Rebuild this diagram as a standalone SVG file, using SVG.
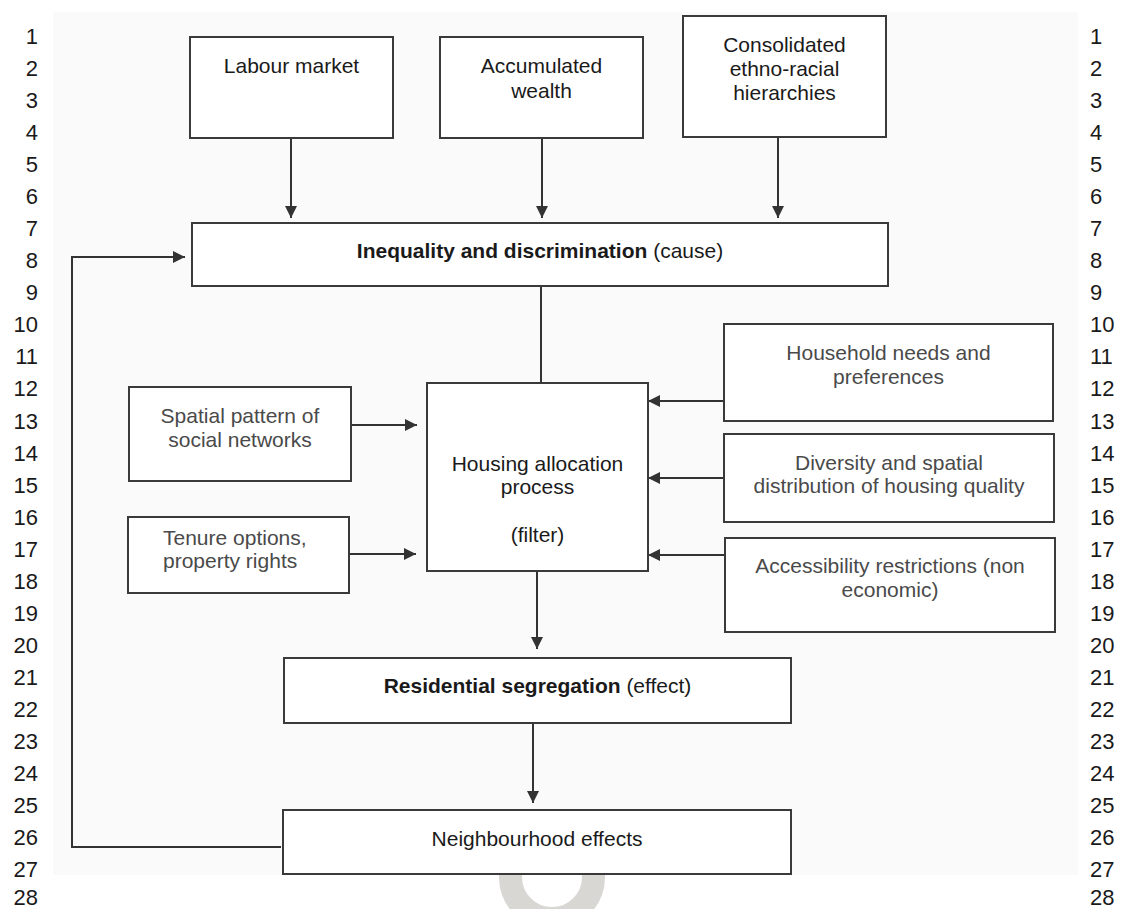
<svg xmlns="http://www.w3.org/2000/svg" width="1121" height="909" viewBox="0 0 1121 909">
<defs>
<style>
.num{font-family:"Liberation Sans",Arial,sans-serif;font-size:22px;fill:#1a1a1a}
.box{fill:#ffffff;stroke:#3a3a3a;stroke-width:2}
.t{font-family:"Liberation Sans",Arial,sans-serif;font-size:21px;fill:#1a1a1a;text-anchor:middle}
.g{font-family:"Liberation Sans",Arial,sans-serif;font-size:21px;fill:#4a4a4a;text-anchor:middle}
.b{font-weight:bold}
.c{fill:none;stroke:#333333;stroke-width:2}
</style>
<marker id="ah" markerUnits="userSpaceOnUse" markerWidth="13" markerHeight="13" refX="12" refY="6.5" orient="auto">
<path d="M0,0.5 L12,6.5 L0,12.5 z" fill="#333333"/>
</marker>
</defs>
<rect x="0" y="0" width="1121" height="909" fill="#ffffff"/>
<rect x="53" y="12" width="1025" height="863" fill="#fafafa"/>
<circle cx="552" cy="877" r="41.5" fill="none" stroke="#d9d7d4" stroke-width="23"/>

<g id="line-numbers-left" class="num" text-anchor="end">
<text x="38" y="44">1</text><text x="38" y="76">2</text><text x="38" y="108">3</text><text x="38" y="140">4</text>
<text x="38" y="172">5</text><text x="38" y="204">6</text><text x="38" y="236">7</text><text x="38" y="268">8</text>
<text x="38" y="300">9</text><text x="38" y="332">10</text><text x="38" y="364">11</text><text x="38" y="396">12</text>
<text x="38" y="429">13</text><text x="38" y="461">14</text><text x="38" y="493">15</text><text x="38" y="525">16</text>
<text x="38" y="557">17</text><text x="38" y="589">18</text><text x="38" y="621">19</text><text x="38" y="653">20</text>
<text x="38" y="685">21</text><text x="38" y="717">22</text><text x="38" y="749">23</text><text x="38" y="781">24</text>
<text x="38" y="813">25</text><text x="38" y="845">26</text><text x="38" y="877">27</text><text x="38" y="905">28</text>
</g>
<g id="line-numbers-right" class="num" text-anchor="start">
<text x="1090" y="44">1</text><text x="1090" y="76">2</text><text x="1090" y="108">3</text><text x="1090" y="140">4</text>
<text x="1090" y="172">5</text><text x="1090" y="204">6</text><text x="1090" y="236">7</text><text x="1090" y="268">8</text>
<text x="1090" y="300">9</text><text x="1090" y="332">10</text><text x="1090" y="364">11</text><text x="1090" y="396">12</text>
<text x="1090" y="429">13</text><text x="1090" y="461">14</text><text x="1090" y="493">15</text><text x="1090" y="525">16</text>
<text x="1090" y="557">17</text><text x="1090" y="589">18</text><text x="1090" y="621">19</text><text x="1090" y="653">20</text>
<text x="1090" y="685">21</text><text x="1090" y="717">22</text><text x="1090" y="749">23</text><text x="1090" y="781">24</text>
<text x="1090" y="813">25</text><text x="1090" y="845">26</text><text x="1090" y="877">27</text><text x="1090" y="905">28</text>
</g>

<g id="connectors">
<line class="c" x1="291" y1="138" x2="291" y2="218" marker-end="url(#ah)"/>
<line class="c" x1="542" y1="138" x2="542" y2="218" marker-end="url(#ah)"/>
<line class="c" x1="778" y1="137" x2="778" y2="218" marker-end="url(#ah)"/>
<polyline class="c" points="281,847 72,847 72,257 185,257" marker-end="url(#ah)"/>
<line class="c" x1="541" y1="287" x2="541" y2="383"/>
<line class="c" x1="351" y1="425" x2="417" y2="425" marker-end="url(#ah)"/>
<line class="c" x1="349" y1="554" x2="416" y2="554" marker-end="url(#ah)"/>
<line class="c" x1="724" y1="401" x2="648" y2="401" marker-end="url(#ah)"/>
<line class="c" x1="724" y1="478" x2="648" y2="478" marker-end="url(#ah)"/>
<line class="c" x1="725" y1="555" x2="648" y2="555" marker-end="url(#ah)"/>
<line class="c" x1="537" y1="571" x2="537" y2="649" marker-end="url(#ah)"/>
<line class="c" x1="533" y1="723" x2="533" y2="803" marker-end="url(#ah)"/>
</g>

<g id="labour-market">
<rect class="box" x="190" y="37" width="203" height="101"/>
<text class="t" x="291.5" y="73">Labour market</text>
</g>
<g id="accumulated-wealth">
<rect class="box" x="440" y="37" width="203" height="101"/>
<text class="t" x="541.5" y="73">Accumulated</text>
<text class="t" x="541.5" y="98">wealth</text>
</g>
<g id="ethno-racial-hierarchies">
<rect class="box" x="683" y="16" width="203" height="121"/>
<text class="t" x="784.5" y="52">Consolidated</text>
<text class="t" x="784.5" y="76">ethno-racial</text>
<text class="t" x="784.5" y="100">hierarchies</text>
</g>
<g id="inequality">
<rect class="box" x="192" y="223" width="696" height="63"/>
<text class="t" x="540" y="258"><tspan class="b">Inequality and discrimination</tspan> (cause)</text>
</g>
<g id="spatial-pattern">
<rect class="box" x="129" y="387" width="222" height="94"/>
<text class="g" x="240" y="423">Spatial pattern of</text>
<text class="g" x="240" y="447">social networks</text>
</g>
<g id="tenure-options">
<rect class="box" x="128" y="517" width="221" height="76"/>
<text class="g" x="163" y="545" style="text-anchor:start">Tenure options,</text>
<text class="g" x="163" y="568" style="text-anchor:start">property rights</text>
</g>
<g id="housing-allocation">
<rect class="box" x="427" y="383" width="221" height="188"/>
<text class="t" x="537.5" y="471">Housing allocation</text>
<text class="t" x="537.5" y="494">process</text>
<text class="t" x="537.5" y="542">(filter)</text>
</g>
<g id="household-needs">
<rect class="box" x="724" y="324" width="329" height="97"/>
<text class="g" x="888.5" y="360">Household needs and</text>
<text class="g" x="888.5" y="384">preferences</text>
</g>
<g id="housing-quality">
<rect class="box" x="724" y="434" width="330" height="88"/>
<text class="g" x="889" y="470">Diversity and spatial</text>
<text class="g" x="889" y="493">distribution of housing quality</text>
</g>
<g id="accessibility">
<rect class="box" x="725" y="538" width="330" height="94"/>
<text class="g" x="890" y="573">Accessibility restrictions (non</text>
<text class="g" x="890" y="597">economic)</text>
</g>
<g id="residential-segregation">
<rect class="box" x="284" y="658" width="507" height="65"/>
<text class="t" x="537.5" y="693"><tspan class="b">Residential segregation</tspan> (effect)</text>
</g>
<g id="neighbourhood-effects">
<rect class="box" x="283" y="810" width="508" height="64"/>
<text class="t" x="537" y="846">Neighbourhood effects</text>
</g>
</svg>
